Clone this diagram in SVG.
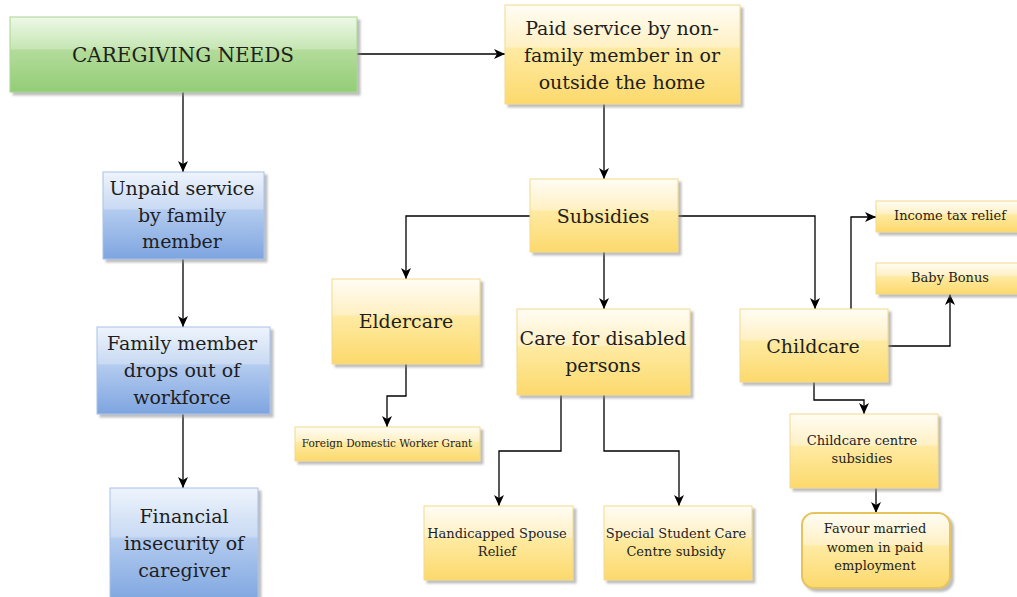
<svg xmlns="http://www.w3.org/2000/svg" width="1017" height="597" viewBox="0 0 1017 597">
<defs>
<linearGradient id="gy" x1="0" y1="0" x2="0" y2="1">
<stop offset="0" stop-color="#fffdf4"/>
<stop offset="0.42" stop-color="#fff0c4"/>
<stop offset="0.44" stop-color="#feeaa2"/>
<stop offset="1" stop-color="#fcd96c"/>
</linearGradient>
<linearGradient id="gb" x1="0" y1="0" x2="0" y2="1">
<stop offset="0" stop-color="#eef4fc"/>
<stop offset="0.42" stop-color="#c9daf3"/>
<stop offset="0.44" stop-color="#b3cbef"/>
<stop offset="1" stop-color="#7ea5e0"/>
</linearGradient>
<linearGradient id="gg" x1="0" y1="0" x2="0" y2="1">
<stop offset="0" stop-color="#eef8e8"/>
<stop offset="0.42" stop-color="#c6e6b4"/>
<stop offset="0.44" stop-color="#b3dc9b"/>
<stop offset="1" stop-color="#93cd76"/>
</linearGradient>
<filter id="sh" x="-10%" y="-10%" width="130%" height="140%">
<feDropShadow dx="3" dy="3" stdDeviation="1" flood-color="#888" flood-opacity="0.55"/>
</filter>
<marker id="ar" markerUnits="userSpaceOnUse" markerWidth="12" markerHeight="12" viewBox="0 0 12 12" refX="11" refY="6" orient="auto">
<path d="M0,1 L11,6 L0,11 L3,6 Z" fill="#000"/>
</marker>
<style>
.y{fill:url(#gy);stroke:#f3d98c;stroke-width:1;filter:url(#sh)}
.b{fill:url(#gb);stroke:#a8c2ea;stroke-width:1;filter:url(#sh)}
.g{fill:url(#gg);stroke:#a9d690;stroke-width:1;filter:url(#sh)}
text{font-family:"DejaVu Serif","Liberation Serif",serif;fill:#1e1e1e;text-anchor:middle}
.L{font-size:19px}
.S{font-size:13px}
.c path{fill:none;stroke:#000;stroke-width:1.3;marker-end:url(#ar)}
</style>
</defs>
<rect width="1017" height="597" fill="#fff"/>
<g class="c" id="connectors">
<path d="M357,54 H505"/>
<path d="M183,92 V172"/>
<path d="M183,259 V327"/>
<path d="M183,414 V488"/>
<path d="M604,104 V179"/>
<path d="M530,216 H406 V279"/>
<path d="M604,252 V309"/>
<path d="M678,216 H815 V309"/>
<path d="M851,309 V217 H876"/>
<path d="M888,346 H950 V294"/>
<path d="M814,382 V400 H864 V414"/>
<path d="M876,488 V513"/>
<path d="M406,364 V396 H387 V427"/>
<path d="M561,395 V451 H499 V506"/>
<path d="M604,395 V451 H679 V506"/>
</g>
<g id="n-caregiving"><rect class="g" x="10" y="17" width="347" height="75"/><text x="183" y="62" style="font-size:20px">CAREGIVING NEEDS</text></g>
<g id="n-paid"><rect class="y" x="505" y="5" width="235" height="99"/><text class="L" x="622" y="35">Paid service by non-</text><text class="L" x="622" y="62">family member in or</text><text class="L" x="622" y="89">outside the home</text></g>
<g id="n-unpaid"><rect class="b" x="103" y="172" width="161" height="87"/><text class="L" x="182" y="195">Unpaid service</text><text class="L" x="182" y="222">by family</text><text class="L" x="182" y="248">member</text></g>
<g id="n-family"><rect class="b" x="97" y="327" width="173" height="87"/><text class="L" x="182" y="350">Family member</text><text class="L" x="182" y="377">drops out of</text><text class="L" x="182" y="404">workforce</text></g>
<g id="n-financial"><rect class="b" x="110" y="488" width="148" height="115"/><text class="L" x="184" y="523">Financial</text><text class="L" x="184" y="550">insecurity of</text><text class="L" x="184" y="577">caregiver</text></g>
<g id="n-subsidies"><rect class="y" x="530" y="179" width="148" height="73"/><text class="L" x="603" y="223">Subsidies</text></g>
<g id="n-eldercare"><rect class="y" x="332" y="279" width="148" height="85"/><text class="L" x="406" y="328">Eldercare</text></g>
<g id="n-disabled"><rect class="y" x="517" y="309" width="173" height="86"/><text class="L" x="603" y="345">Care for disabled</text><text class="L" x="603" y="372">persons</text></g>
<g id="n-childcare"><rect class="y" x="740" y="309" width="148" height="73"/><text class="L" x="813" y="353">Childcare</text></g>
<g id="n-incometax"><rect class="y" x="876" y="201" width="145" height="31"/><text class="S" x="950" y="220">Income tax relief</text></g>
<g id="n-babybonus"><rect class="y" x="876" y="263" width="145" height="31"/><text class="S" x="950" y="282">Baby Bonus</text></g>
<g id="n-fdw"><rect class="y" x="295" y="427" width="185" height="34"/><text x="387" y="447" style="font-size:10.5px">Foreign Domestic Worker Grant</text></g>
<g id="n-handicapped"><rect class="y" x="424" y="506" width="149" height="74"/><text class="S" x="497" y="538">Handicapped Spouse</text><text class="S" x="497" y="556">Relief</text></g>
<g id="n-special"><rect class="y" x="604" y="506" width="148" height="74"/><text class="S" x="676" y="538">Special Student Care</text><text class="S" x="676" y="556">Centre subsidy</text></g>
<g id="n-ccs"><rect class="y" x="790" y="414" width="148" height="74"/><text class="S" x="862" y="445">Childcare centre</text><text class="S" x="862" y="463">subsidies</text></g>
<g id="n-favour"><rect class="y" x="802" y="513" width="148" height="75" rx="12" style="stroke:#e6c35c;stroke-width:2"/><text class="S" x="875" y="533">Favour married</text><text class="S" x="875" y="552">women in paid</text><text class="S" x="875" y="570">employment</text></g>
</svg>
